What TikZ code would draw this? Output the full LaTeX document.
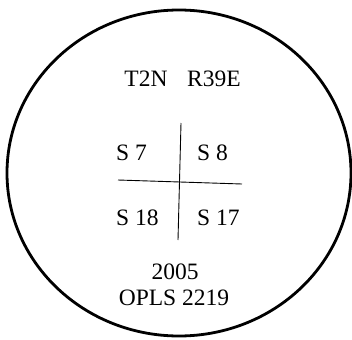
\documentclass[tikz,border=0pt]{standalone}
\usepackage{fontspec}
\setmainfont{Liberation Serif}
\begin{document}
\begin{tikzpicture}[x=1pt,y=-1pt,
  lbl/.style={inner sep=0pt,font=\fontsize{23.5}{28}\selectfont},
  rim/.style={line width=2.8pt},
  grid line/.style={line width=0.9pt}]
\fill[white] (0,0) rectangle (352,339);
\useasboundingbox (0,0) rectangle (352,339);
\draw[rim] (179,173) ellipse [x radius=172, y radius=163];
\node[lbl,anchor=base] (t) at (146,87) {T2N};
\node[lbl,anchor=base] (r) at (214,87) {R39E};
\node[lbl,anchor=base west] (s7) at (116,160) {S 7};
\node[lbl,anchor=base west] (s8) at (197,160) {S 8};
\node[lbl,anchor=base west] (s18) at (116,225) {S 18};
\node[lbl,anchor=base west] (s17) at (197,225) {S 17};
\node[lbl,anchor=base] (yr) at (175,279) {2005};
\node[lbl,anchor=base] (op) at (174,305) {OPLS 2219};
\coordinate (vt) at (181,123);
\coordinate (vb) at (178,240);
\coordinate (hl) at (118,180);
\coordinate (hr) at (242,184);
\draw[grid line] (vt) -- (vb);
\draw[grid line] (hl) -- (hr);
\end{tikzpicture}
\end{document}
